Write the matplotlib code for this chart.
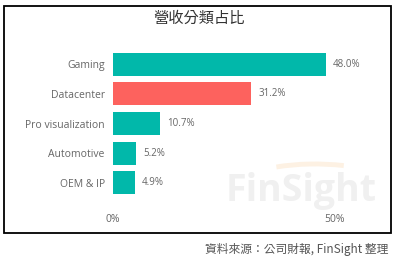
import matplotlib
matplotlib.use("Agg")
import matplotlib.pyplot as plt
from matplotlib.patches import Rectangle, Arc

categories = ["Gaming", "Datacenter", "Pro visualization", "Automotive", "OEM & IP"]
values = [48.0, 31.2, 10.7, 5.2, 4.9]
colors = ["#01B8AA", "#FD625E", "#01B8AA", "#01B8AA", "#01B8AA"]
xticks = [0, 50]
xticklabels = ["0%", "50%"]
title = "營收分類占比"
source = "資料來源：公司財報, FinSight 整理"

plt.rcParams['font.family'] = ['Open Sans', 'Noto Sans CJK TC', 'DejaVu Sans']
W, H = 399, 262
fig = plt.figure(figsize=(W / 100, H / 100), dpi=100)
fig.patch.set_facecolor("white")

# outer border
fig.patches.append(Rectangle((4 / W, 1 - 233 / H), (391 - 4) / W, (233 - 6) / H,
                             transform=fig.transFigure, fill=False,
                             edgecolor="black", linewidth=1.3, zorder=0))

# watermark
ax_wm = fig.add_axes([0, 0, 1, 1], zorder=0)
ax_wm.set_xlim(0, W); ax_wm.set_ylim(H, 0); ax_wm.axis("off")
ax_wm.patch.set_alpha(0)
ax_wm.text(301, 191, "FinSight", ha="center", va="center",
           fontsize=27, fontweight="bold", color="#f0f0f0", family="Open Sans")
ax_wm.add_patch(Arc((315, 185), 150, 42, theta1=205, theta2=326,
                    color="#fdf1e3", lw=3.5))

ax = fig.add_axes([113 / W, 1 - 197 / H, (370 - 113) / W, (197 - 50) / H], zorder=1)
ax.patch.set_alpha(0)
y = list(range(len(categories)))
ax.barh(y, values, height=0.78, color=colors)
for yi, v in zip(y, values):
    ax.text(v + 1.6, yi, f"{v:.1f}%", va="center", ha="left", fontsize=7, color="#666666")
ax.set_yticks(y)
ax.set_yticklabels(categories, fontsize=7.5, color="#666666")
ax.set_xticks(xticks)
ax.set_xticklabels(xticklabels, fontsize=7.5, color="#666666")
ax.set_xlim(0, 57.9)
ax.set_ylim(4.49, -0.49)
ax.tick_params(axis="both", length=0)
ax.tick_params(axis="y", pad=6)
ax.tick_params(axis="x", pad=12)
for s in ax.spines.values():
    s.set_visible(False)

fig.text(199 / W, 1 - 18 / H, title, ha="center", va="center", fontsize=11,
         color="#333333", family=["Noto Sans CJK TC", "DejaVu Sans"])
fig.text(388 / W, 1 - 249 / H, source, ha="right", va="center", fontsize=8.5,
         color="#555555", family=["Noto Sans CJK TC", "DejaVu Sans"])

fig.savefig("out.png", dpi=100)
